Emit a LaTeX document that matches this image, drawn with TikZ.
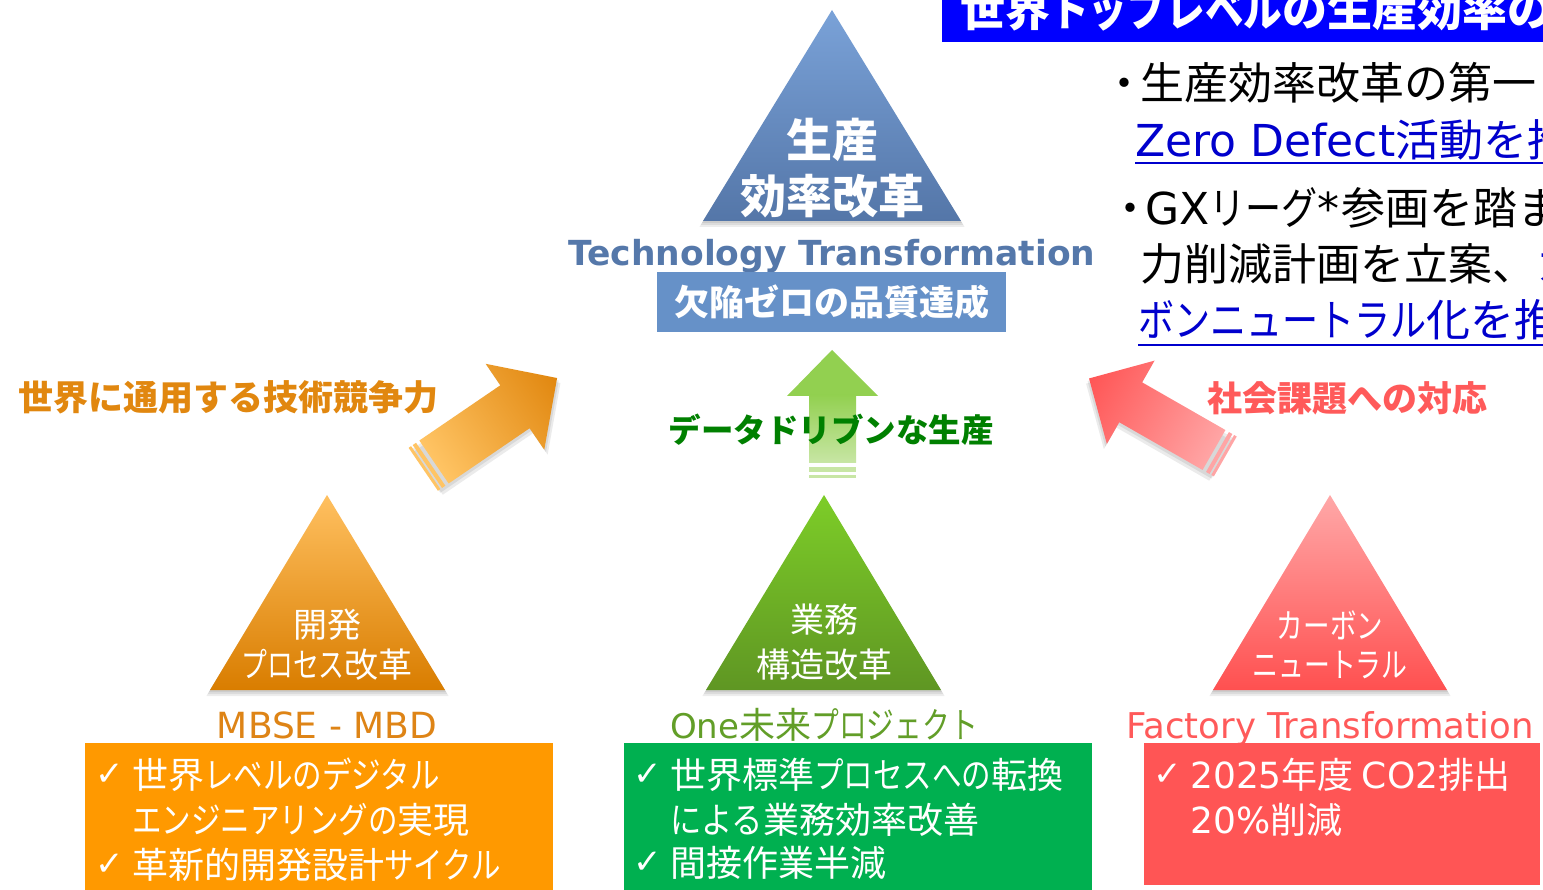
\documentclass[tikz,border=0pt]{standalone}
\usepackage{graphicx}
\usepackage{fontspec}
\setmainfont{Noto Sans CJK JP}
\newfontfamily\lat{DejaVu Sans}
\newcommand\fsz[1]{\fontsize{#1}{#1}\selectfont}
\newcommand\kn[2][0.82]{\scalebox{#1}[1]{#2}}
\definecolor{bannerblue}{RGB}{0,0,255}
\definecolor{linkblue}{RGB}{0,0,205}
\definecolor{techblue}{RGB}{85,120,170}
\definecolor{boxblue}{RGB}{102,145,200}
\definecolor{tbtop}{RGB}{122,162,216}
\definecolor{tbbot}{RGB}{84,118,168}
\definecolor{ortop}{RGB}{255,192,96}
\definecolor{orbot}{RGB}{217,125,0}
\definecolor{grtop}{RGB}{125,205,40}
\definecolor{grbot}{RGB}{95,150,35}
\definecolor{rdtop}{RGB}{255,168,168}
\definecolor{rdbot}{RGB}{255,80,80}
\definecolor{orlight}{RGB}{255,196,100}
\definecolor{ordark}{RGB}{225,135,15}
\definecolor{rdlight}{RGB}{255,165,165}
\definecolor{rddark}{RGB}{255,85,85}
\definecolor{garrow}{RGB}{146,208,80}
\definecolor{garrowlt}{RGB}{200,230,165}
\definecolor{ddgreen}{RGB}{0,128,0}
\definecolor{ortxt}{RGB}{222,132,22}
\definecolor{grtxt}{RGB}{98,158,40}
\definecolor{rdtxt}{RGB}{255,90,90}
\definecolor{orbox}{RGB}{255,153,0}
\definecolor{grbox}{RGB}{0,176,80}
\definecolor{rdbox}{RGB}{255,85,85}
\begin{document}
\begin{tikzpicture}[x=1pt,y=-1pt,
  every node/.style={inner sep=0pt},
  tlabel/.style={text=white,font=\fsz{34}},
  boxline/.style={anchor=base west,text=white,font=\fsz{36}},
  chk/.style={anchor=base,text=white,font=\lat\fsz{34}},
  body/.style={anchor=base west,font=\fsz{44}},
  tshadow/.style={black,opacity=0.07}]
\useasboundingbox (0,0) rectangle (1543,890);
\clip (0,0) rectangle (1543,890);
\fill[white] (0,0) rectangle (1543,890);

% banner
\fill[bannerblue] (942,-5) rectangle (1560,42);
\node[anchor=base west,text=white,font=\fsz{45}\bfseries] (banner) at (960,27) {世界\kn[0.86]{トップレベル}の生産効率の};

% right body text
\node[body] (l1) at (1102,100) {・\kern-6pt 生産効率改革の第一};
\node[body,text=linkblue] (l2) at (1135,157) {{\lat Zero Defect}活動を推};
\draw[linkblue,line width=2] (1135,163) -- (1543,163);
\node[body] (l3) at (1108,225) {・\kern-7pt {\lat GX}\kn{リーグ}{\lat *}\kern2pt 参画を踏ま};
\node[body] (l4) at (1140,281) {力削減計画を立案、\textcolor{linkblue}{カ}};
\node[body,text=linkblue] (l5) at (1138,337) {\kn{ボンニュートラル}化を推};
\draw[linkblue,line width=2] (1138,345) -- (1543,345);

% top triangle
\foreach \d in {2,4,6} {\fill[tshadow] (832,10+\d) -- (961+\d*0.6,221+\d) -- (703-\d*0.6,221+\d) -- cycle;}
\shade[top color=tbtop,bottom color=tbbot] (832,10) -- (961,221) -- (703,221) -- cycle;
\node[text=white,font=\fsz{46}\bfseries] (tt1) at (832,140) {生産};
\node[text=white,font=\fsz{46}\bfseries] (tt2) at (832,196) {効率改革};
\node[anchor=base,text=techblue,font=\lat\fsz{34.5}\bfseries] (tech) at (832,266) {Technology Transformation};
\node[fill=boxblue,minimum width=349pt,minimum height=60pt,text=white,font=\fsz{35}\bfseries] (zero) at (831.5,302) {欠陥ゼロの品質達成};

% orange arrow
\begin{scope}[transform canvas={shift={(434,462)},rotate=34.3}]
  \foreach \d in {3,6} {\fill[black,opacity=0.08] (-13+\d*0.3,-26+\d) -- (98,-26+\d) -- (98,-52+\d) -- (149,\d) -- (98,52+\d) -- (98,26+\d) -- (-13+\d*0.3,26+\d) -- cycle;}
  \shade[left color=orlight,right color=ordark] (0,-26) -- (98,-26) -- (98,-52) -- (149,0) -- (98,52) -- (98,26) -- (0,26) -- cycle;
  \fill[orlight] (-13,-26) rectangle (-10,26);
  \fill[orlight] (-8,-26) rectangle (-4,26);
\end{scope}

% red arrow
\begin{scope}[transform canvas={shift={(1214,450)},rotate=150.2}]
  \foreach \d in {3,6} {\fill[black,opacity=0.08] (-13+\d*0.3,-23-\d) -- (96,-23-\d) -- (96,-48-\d) -- (144,-\d) -- (96,48-\d) -- (96,23-\d) -- (-13+\d*0.3,23-\d) -- cycle;}
  \shade[left color=rdlight,right color=rddark] (0,-23) -- (96,-23) -- (96,-48) -- (144,0) -- (96,48) -- (96,23) -- (0,23) -- cycle;
  \fill[rdlight] (-13,-23) rectangle (-10,23);
  \fill[rdlight] (-8,-23) rectangle (-4,23);
\end{scope}

% green arrow
\fill[garrow] (832,350) -- (878,396) -- (787,396) -- cycle;
\shade[top color=garrow,bottom color=garrowlt] (809,395) rectangle (856,463);
\fill[garrowlt] (809,467) rectangle (856,472);
\fill[garrowlt] (809,475) rectangle (856,478);

% arrow labels
\node[text=ordark,font=\fsz{35}\bfseries] (sekai) at (229,397) {世界に通用する技術競争力};
\node[text=ddgreen,font=\fsz{32.5}\bfseries] (dd) at (831,430) {データドリブンな生産};
\node[text=rdtxt,font=\fsz{35}\bfseries] (shakai) at (1347,398) {社会課題への対応};

% orange triangle
\foreach \d in {2,4,6} {\fill[tshadow] (327,495+\d) -- (445+\d*0.6,690+\d) -- (210-\d*0.6,690+\d) -- cycle;}
\shade[top color=ortop,bottom color=orbot] (327,495) -- (445,690) -- (210,690) -- cycle;
\node[tlabel] (o1) at (327,625) {開発};
\node[tlabel] (o2) at (327,665) {\kn[0.76]{プロセス}改革};
\node[anchor=base,text=ortxt,font=\lat\fsz{36}] (mbse) at (327,738) {MBSE - MBD};
\fill[orbox] (85,743) rectangle (553,895);
\node[chk] (oc1) at (110,785) {✓};
\node[boxline] (ob1) at (132,788) {世界\kn{レベルのデジタル}};
\node[boxline] (ob2) at (132,833) {\kn{エンジニアリングの}実現};
\node[chk] (oc2) at (110,875) {✓};
\node[boxline] (ob3) at (132,878) {革新的開発設計\kn{サイクル}};

% green triangle
\foreach \d in {2,4,6} {\fill[tshadow] (824,495+\d) -- (941+\d*0.6,690+\d) -- (706-\d*0.6,690+\d) -- cycle;}
\shade[top color=grtop,bottom color=grbot] (824,495) -- (941,690) -- (706,690) -- cycle;
\node[tlabel] (g1) at (824,620) {業務};
\node[tlabel] (g2) at (824,665) {構造改革};
\node[anchor=base,text=grtxt,font=\fsz{36}] (one) at (824,738) {{\lat\fsz{34}One}未来\kn[0.77]{プロジェクト}};
\fill[grbox] (624,743) rectangle (1092,895);
\node[chk] (gc1) at (648,785) {✓};
\node[boxline] (gb1) at (670,788) {世界標準\kn{プロセスへの}転換};
\node[boxline] (gb2) at (670,833) {\kn[0.87]{による}業務効率改善};
\node[chk] (gc2) at (648,873) {✓};
\node[boxline] (gb3) at (670,876) {間接作業半減};

% red triangle
\foreach \d in {2,4,6} {\fill[tshadow] (1330,495+\d) -- (1447+\d*0.6,690+\d) -- (1213-\d*0.6,690+\d) -- cycle;}
\shade[top color=rdtop,bottom color=rdbot] (1330,495) -- (1447,690) -- (1213,690) -- cycle;
\node[tlabel] (r1) at (1330,625) {\kn[0.78]{カーボン}};
\node[tlabel] (r2) at (1330,665) {\kn[0.76]{ニュートラル}};
\node[anchor=base,text=rdtxt,font=\lat\fsz{35.5}] (fact) at (1330,738) {Factory Transformation};
\fill[rdbox] (1144,743) rectangle (1540,885);
\node[chk] (rc1) at (1168,785) {✓};
\node[boxline] (rb1) at (1190,788) {{\lat 2025}年度 {\lat CO2}排出};
\node[boxline] (rb2) at (1190,833) {{\lat 20\%}削減};
\end{tikzpicture}
\end{document}
